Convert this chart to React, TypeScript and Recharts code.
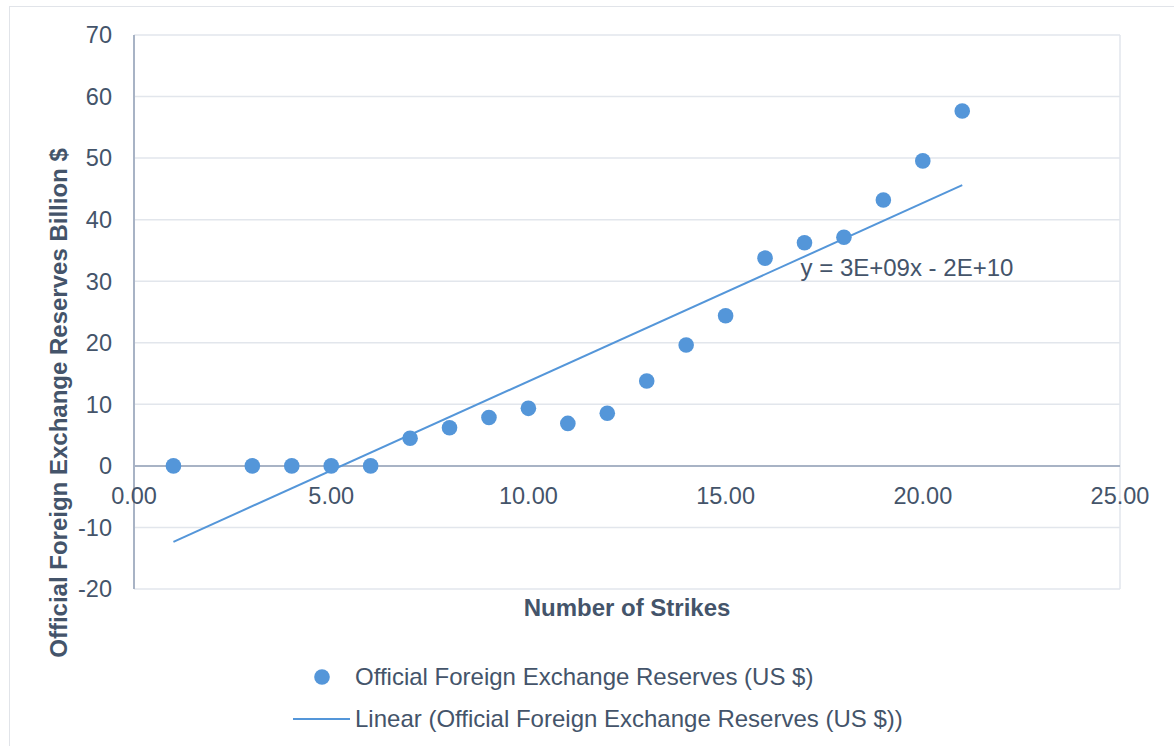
import React from 'react';
import {
  ScatterChart,
  Scatter,
  XAxis,
  YAxis,
  CartesianGrid,
  ReferenceLine,
  ReferenceDot,
} from 'recharts';

const strikes = [1, 3, 4, 5, 6, 7, 8, 9, 10, 11, 12, 13, 14, 15, 16, 17, 18, 19, 20, 21];
const reservesBn = [0, 0, 0, 0, 0, 4.5, 6.2, 7.85, 9.35, 6.9, 8.55, 13.8, 19.65, 24.4, 33.75, 36.25, 37.15, 43.2, 49.55, 57.65];
const xTicks = [0, 5, 10, 15, 20, 25];
const yTicks = [-20, -10, 0, 10, 20, 30, 40, 50, 60, 70];

const seriesName = 'Official Foreign Exchange Reserves (US $)';
const trendName = `Linear (${seriesName})`;

const BLUE = '#5496d9';
const TEXT = '#44546a';
const GRID = '#e2e6ec';
const AXIS = '#a8b3c5';
const FONT = '"Liberation Sans", Arial, sans-serif';

const points = strikes.map((x, i) => ({ x, y: reservesBn[i] }));

// least squares fit, same as the spreadsheet's linear trendline
function linearFit(xs: number[], ys: number[]) {
  const n = xs.length;
  const mx = xs.reduce((a, b) => a + b, 0) / n;
  const my = ys.reduce((a, b) => a + b, 0) / n;
  let sxy = 0;
  let sxx = 0;
  xs.forEach((x, i) => {
    sxy += (x - mx) * (ys[i] - my);
    sxx += (x - mx) * (x - mx);
  });
  const slope = sxy / sxx;
  return { slope, intercept: my - slope * mx };
}

const fit = linearFit(strikes, reservesBn);
const xFirst = strikes[0];
const xLast = strikes[strikes.length - 1];
const trend = [
  { x: xFirst, y: fit.slope * xFirst + fit.intercept },
  { x: xLast, y: fit.slope * xLast + fit.intercept },
];

// Excel-style scientific notation, e.g. 3E+09 (values are in billions)
function sci(v: number) {
  const [m, e] = Math.abs(v * 1e9).toExponential(0).split('e');
  const sign = e[0];
  const digits = e.slice(1).padStart(2, '0');
  return `${m}E${sign}${digits}`;
}
const equation = `y = ${sci(fit.slope)}x ${fit.intercept < 0 ? '-' : '+'} ${sci(fit.intercept)}`;
const equationAt = { x: 16.9, y: 32.3 };

const Dot = (props: any) => <circle cx={props.cx} cy={props.cy} r={7.8} fill={BLUE} />;
const NoDot = () => <g />;

const YTitle = (props: any) => {
  const { viewBox } = props;
  const cx = viewBox.x + 24;
  const cy = viewBox.y + viewBox.height / 2 + 91;
  return (
    <text
      x={cx}
      y={cy}
      transform={`rotate(-90 ${cx} ${cy})`}
      textAnchor="middle"
      dominantBaseline="central"
      fill={TEXT}
      fontSize={24}
      fontWeight="bold"
      fontFamily={FONT}
    >
      Official Foreign Exchange Reserves Billion $
    </text>
  );
};

export default function App() {
  return (
    <div style={{ position: 'fixed', left: 0, top: 0, width: 1174, height: 746, overflow: 'hidden', background: '#fff', fontFamily: FONT }}>
      <div style={{ position: 'absolute', left: 9, top: 6, width: 1200, height: 800, border: '1.5px solid #e1e4e9' }} />
      <ScatterChart width={1174} height={746} margin={{ top: 35, right: 54, left: 34, bottom: 147 }}>
        <CartesianGrid stroke={GRID} strokeWidth={1.5} />
        <XAxis
          type="number"
          dataKey="x"
          domain={[0, 25]}
          ticks={xTicks}
          tick={false}
          tickLine={false}
          axisLine={false}
          height={10}
          label={{ value: 'Number of Strikes', position: 'bottom', offset: 0, fill: TEXT, fontSize: 24, fontWeight: 'bold', fontFamily: FONT }}
        />
        <YAxis
          type="number"
          dataKey="y"
          domain={[-20, 70]}
          ticks={yTicks}
          width={100}
          tickSize={0}
          tickMargin={22}
          axisLine={{ stroke: AXIS, strokeWidth: 2 }}
          tick={{ fill: TEXT, fontSize: 23.5, fontFamily: FONT }}
          label={<YTitle />}
        />
        <ReferenceLine y={0} stroke={AXIS} strokeWidth={2} />
        {xTicks.map((t) => (
          <ReferenceDot
            key={t}
            x={t}
            y={0}
            r={0}
            fill="none"
            stroke="none"
            label={{ value: t.toFixed(2), position: 'bottom', offset: 21, fill: TEXT, fontSize: 23.5, fontFamily: FONT }}
          />
        ))}
        <Scatter
          name={trendName}
          data={trend}
          line={{ stroke: BLUE, strokeWidth: 2 }}
          shape={NoDot}
          isAnimationActive={false}
        />
        <Scatter name={seriesName} data={points} fill={BLUE} shape={Dot} isAnimationActive={false} />
        <ReferenceDot
          x={equationAt.x}
          y={equationAt.y}
          r={0}
          fill="none"
          stroke="none"
          label={{ value: equation, position: 'right', offset: 0, fill: TEXT, fontSize: 24, fontFamily: FONT }}
        />
      </ScatterChart>
      <div style={{ position: 'absolute', left: 289, top: 656, color: TEXT, fontSize: 24, lineHeight: '42px' }}>
        <div style={{ display: 'flex', alignItems: 'center' }}>
          <svg width={66} height={20}>
            <circle cx={33} cy={10} r={7.8} fill={BLUE} />
          </svg>
          <span>{seriesName}</span>
        </div>
        <div style={{ display: 'flex', alignItems: 'center' }}>
          <svg width={66} height={20}>
            <line x1={4} y1={10} x2={61} y2={10} stroke={BLUE} strokeWidth={2} />
          </svg>
          <span>{trendName}</span>
        </div>
      </div>
    </div>
  );
}
